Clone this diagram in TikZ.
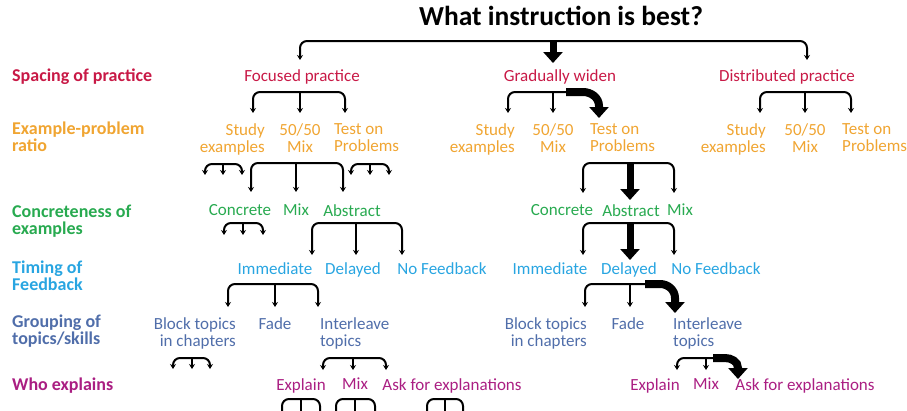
\documentclass[tikz,border=0pt]{standalone}
\usepackage{fontspec}
\setmainfont{Carlito}
\usetikzlibrary{arrows.meta}
\definecolor{cspace}{RGB}{200,25,70}
\definecolor{cratio}{RGB}{240,165,50}
\definecolor{cconc}{RGB}{40,170,80}
\definecolor{ctime}{RGB}{40,165,225}
\definecolor{cgroup}{RGB}{80,110,170}
\definecolor{cwho}{RGB}{170,30,130}
\tikzset{
  base font/.style={font=\fontsize{17}{17}\selectfont},
  lbl/.style={font=\fontsize{18}{17.5}\selectfont\bfseries, anchor=north west, inner sep=0pt, align=left},
  txt/.style={base font, anchor=north, inner sep=0pt, align=center},
  txtr/.style={base font, anchor=north east, inner sep=0pt, align=right},
  txtl/.style={base font, anchor=north west, inner sep=0pt, align=left},
  thinline/.style={line width=2pt, rounded corners=7pt},
  bigarrow/.style={line width=7pt, -{Triangle[length=11pt,width=19pt]}},
  smallhead/.style={-{Stealth[length=5pt,width=6pt]}},
  twohead/.style={{Stealth[length=5pt,width=6pt]}-{Stealth[length=5pt,width=6pt]}}
}
\newcommand\threebrk[5]{%
  \draw[thinline,twohead] (#1,#5) |- (#2,#4) -| (#3,#5);
  \draw[thinline,smallhead] (#2,#4) -- (#2,#5);}
\begin{document}
\begin{tikzpicture}[x=1pt,y=-1pt]
\useasboundingbox (0,0) rectangle (907,410);
\clip (0,0) rectangle (907,410);
% title
\node[anchor=north, inner sep=0pt, font=\fontsize{27.5}{30}\selectfont\bfseries] (title) at (561,6) {What instruction is best?};
% left labels
\node[lbl, text=cspace] (l1) at (12,68.5) {Spacing of practice};
\node[lbl, text=cratio] (l2) at (12,121.5) {Example-problem\\ratio};
\node[lbl, text=cconc] (l3) at (12,204.5) {Concreteness of\\examples};
\node[lbl, text=ctime] (l4) at (12,260.5) {Timing of\\Feedback};
\node[lbl, text=cgroup] (l5) at (12,314.5) {Grouping of\\topics/skills};
\node[lbl, text=cwho] (l6) at (12,377.5) {Who explains};
% level 1
\node[txt, text=cspace] (foc) at (302,69) {Focused practice};
\node[txt, text=cspace] (grad) at (560,69) {Gradually widen};
\node[txt, text=cspace] (dist) at (787,69) {Distributed practice};
% level 2
\node[txtr, text=cratio] (fs) at (265,123) {Study\\examples};
\node[txt, text=cratio] (fm) at (300,123) {50/50\\Mix};
\node[txtl, text=cratio] (ft) at (334,123) {Test on\\Problems};
\node[txtr, text=cratio] (gs) at (515,123) {Study\\examples};
\node[txt, text=cratio] (gm) at (553,123) {50/50\\Mix};
\node[txtl, text=cratio] (gt) at (590,123) {Test on\\Problems};
\node[txtr, text=cratio] (ds) at (766,123) {Study\\examples};
\node[txt, text=cratio] (dm) at (805,123) {50/50\\Mix};
\node[txtl, text=cratio] (dt) at (842,123) {Test on\\Problems};
% level 3
\node[txt, text=cconc] (fc) at (240,204) {Concrete};
\node[txt, text=cconc] (fx) at (296,204) {Mix};
\node[txt, text=cconc] (fa) at (352,204) {Abstract};
\node[txt, text=cconc] (gc) at (562,204) {Concrete};
\node[txt, text=cconc] (ga) at (631,204) {Abstract};
\node[txt, text=cconc] (gx) at (680,204) {Mix};
% level 4
\node[txt, text=ctime] (fi) at (275,262) {Immediate};
\node[txt, text=ctime] (fd) at (353,262) {Delayed};
\node[txt, text=ctime] (fn) at (442,262) {No Feedback};
\node[txt, text=ctime] (gi) at (550,262) {Immediate};
\node[txt, text=ctime] (gd) at (629,262) {Delayed};
\node[txt, text=ctime] (gn) at (716,262) {No Feedback};
% level 5
\node[txtr, text=cgroup] (fb) at (236,317) {Block topics\\in chapters};
\node[txt, text=cgroup] (ff) at (275,317) {Fade};
\node[txtl, text=cgroup] (fl) at (320,317) {Interleave\\topics};
\node[txtr, text=cgroup] (gb) at (587,317) {Block topics\\in chapters};
\node[txt, text=cgroup] (gf) at (628,317) {Fade};
\node[txtl, text=cgroup] (gl) at (673,317) {Interleave\\topics};
% level 6
\node[txt, text=cwho] (fe) at (301,378) {Explain};
\node[txt, text=cwho] (fm6) at (355,378) {Mix};
\node[txt, text=cwho] (fk) at (452,378) {Ask for explanations};
\node[txt, text=cwho] (ge) at (655,378) {Explain};
\node[txt, text=cwho] (gm6) at (706,378) {Mix};
\node[txt, text=cwho] (gk) at (805,378) {Ask for explanations};
% top connector
\draw[thinline,twohead] (300,60) |- (553,41) -| (807,60);
\draw[bigarrow] (553,40) -- (553,63);
% level 1 -> 2
\threebrk{253}{300}{345}{92}{113}
\draw[thinline,smallhead] (572,92) -| (508,113);
\draw[thinline,smallhead] (553,92) -- (553,113);
\draw[bigarrow, line width=8pt] (566,92) -- (583,92) to[out=0,in=90] (599,106) -- (599,118);
\threebrk{760}{805}{851}{92}{113}
% level 2 -> 3
\threebrk{205}{223}{242}{164}{175}
\threebrk{251}{296}{343}{163}{192}
\threebrk{351}{370}{389}{164}{175}
\draw[thinline,twohead] (583,193) |- (630,163) -| (674,193);
\draw[bigarrow] (630,162) -- (630,200);
% level 3 -> 4
\threebrk{224}{243}{263}{223}{235}
\threebrk{312}{356}{402}{223}{255}
\draw[thinline,twohead] (583,255) |- (630,223) -| (674,255);
\draw[bigarrow] (630,222) -- (630,260);
% level 4 -> 5
\threebrk{228}{275}{318}{284}{307}
\draw[thinline,smallhead] (650,284) -| (585,307);
\draw[thinline,smallhead] (630,284) -- (630,307);
\draw[bigarrow, line width=8pt] (645,284) -- (660,284) to[out=0,in=90] (675,298) -- (675,313);
% level 5 -> 6
\threebrk{173}{192}{210}{358}{369}
\threebrk{323}{353}{386}{358}{370}
\draw[thinline,smallhead] (718,358) -| (677,370);
\draw[thinline,smallhead] (706,358) -- (706,370);
\draw[bigarrow, line width=8pt] (713,358) -- (725,358) to[out=0,in=90] (738,368) -- (738,379);
% bottom (cut off)
\threebrk{282}{301}{320}{399}{420}
\threebrk{336}{355}{375}{399}{420}
\threebrk{427}{445}{463}{399}{420}
\end{tikzpicture}
\end{document}
